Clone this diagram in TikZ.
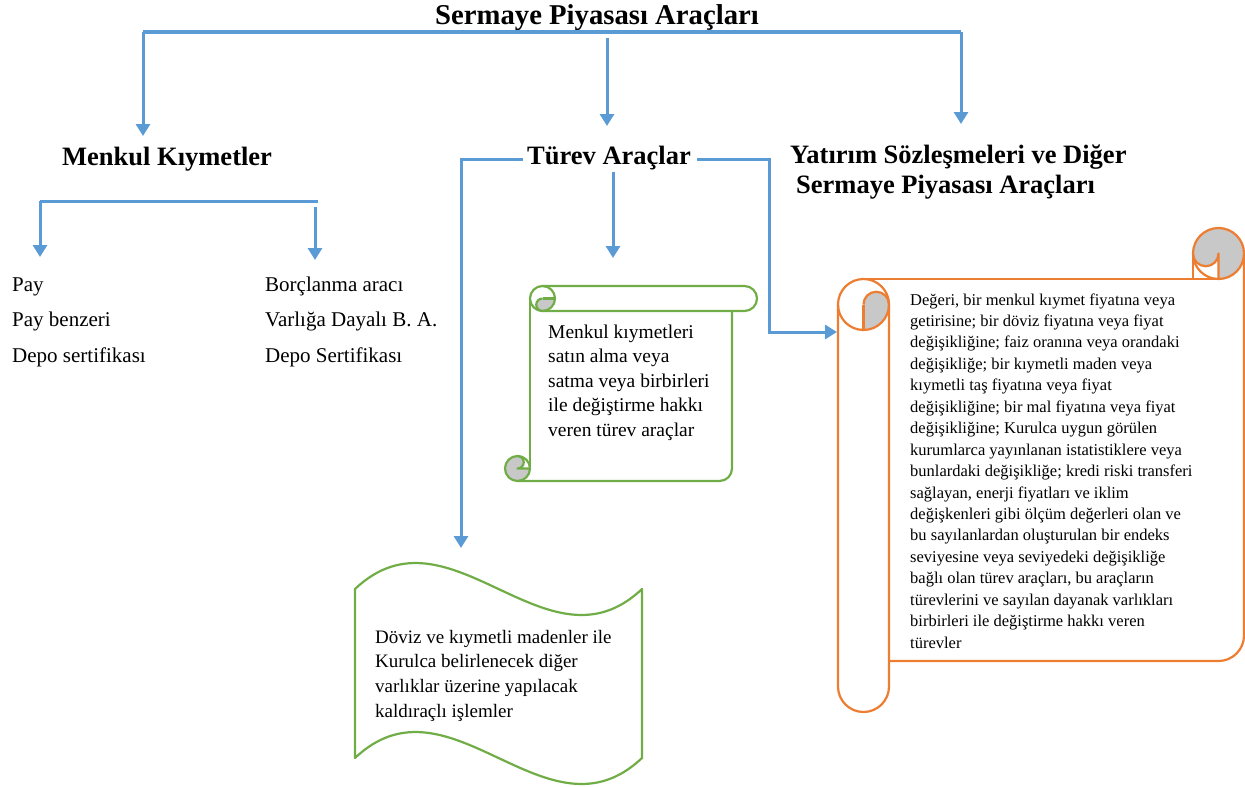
\documentclass[tikz,border=0pt]{standalone}
\usepackage{fontspec}
\setmainfont{Liberation Serif}
\usetikzlibrary{arrows.meta}
\definecolor{linkblue}{RGB}{91,155,213}
\definecolor{scrollgreen}{RGB}{112,173,71}
\definecolor{scrollorange}{RGB}{237,125,49}
\definecolor{curlgray}{RGB}{200,200,200}
% stacked lines; the node's baseline is the first line's baseline
\newcommand\txtlines[1]{\vtop{\halign{##\hfil\cr#1\crcr}}}
\begin{document}
\begin{tikzpicture}[x=1pt,y=-1pt,
  link/.style={draw=linkblue,line width=3pt},
  arr/.style={link,-{Triangle[width=14pt,length=12pt]}},
  head/.style={inner sep=0pt,font=\fontsize{26.5}{30}\selectfont\bfseries},
  listtxt/.style={inner sep=0pt,anchor=base west,font=\fontsize{21}{35.5}\selectfont},
  greenline/.style={draw=scrollgreen,line width=2.2pt,line join=round},
  orangeline/.style={draw=scrollorange,line width=2.2pt,line join=round},
  curl/.style={fill=curlgray}]
\useasboundingbox (0,0) rectangle (1245,787);

% ---- headings ----
\node[head,font=\fontsize{28.7}{30}\selectfont\bfseries,anchor=base] (title) at (597,24) {Sermaye Piyasası Araçları};
\node[head,anchor=base west] (mk) at (62,165) {Menkul Kıymetler};
\node[head,anchor=base west] (tv) at (527,164) {Türev Araçlar};
\node[head,anchor=base west] (ys) at (790,163)
  {\txtlines{Yatırım Sözleşmeleri ve Diğer\cr\hspace{6pt}Sermaye Piyasası Araçları}};

% ---- lists under Menkul Kıymetler ----
\node[listtxt] (listL) at (12,291) {\txtlines{Pay\cr Pay benzeri\cr Depo sertifikası}};
\node[listtxt] (listR) at (265,291) {\txtlines{Borçlanma aracı\cr Varlığa Dayalı B. A.\cr Depo Sertifikası}};

% ---- connectors from the title ----
\coordinate (busL) at (143,32);
\coordinate (busR) at (961,32);
\coordinate (busM) at (607,38);
\coordinate (tipMK) at (143,136);
\coordinate (tipTV) at (607,126);
\coordinate (tipYS) at (961,124);
\draw[link,line width=3.5pt] (busL) -- (busR);
\draw[arr] (busL) -- (tipMK);
\draw[arr] (busM) -- (tipTV);
\draw[arr] (busR) -- (tipYS);

% ---- connectors under Menkul Kıymetler ----
\coordinate (mkL) at (40,201);
\coordinate (mkR) at (318,201);
\coordinate (mkR2) at (315,207);
\coordinate (tipPay) at (40,257);
\coordinate (tipBorc) at (315,260);
\draw[link] (mkL) -- (mkR);
\draw[arr] (mkL) -- (tipPay);
\draw[arr] (mkR2) -- (tipBorc);

% ---- connectors from Türev Araçlar ----
\coordinate (tvL) at (523,159);
\coordinate (tipWave) at (461,548);
\coordinate (tvR) at (697,159);
\coordinate (tvRc) at (769,159);
\coordinate (tipOrange) at (837,332);
\coordinate (tvM) at (613,172);
\coordinate (tipGreen) at (613,258);
\draw[arr] (tvL) -| (tipWave);
\draw[arr] (tvR) -- (tvRc) |- (tipOrange);
\draw[arr] (tvM) -- (tipGreen);

% ---- horizontal scroll (green) ----
\path[curl] (542.5,298.5) -- (555,298.5) arc[start angle=0,end angle=90,radius=12.5]
  arc[start angle=90,end angle=270,radius=6.25] -- cycle;
\path[curl] (517.5,456) arc[start angle=270,end angle=0,radius=12.5] -- (517.5,468.5)
  arc[start angle=90,end angle=-90,radius=6.25] -- cycle;
\draw[greenline] (542.5,298.5) circle[radius=12.5];
\draw[greenline] (542.5,286) -- (744.5,286) arc[start angle=-90,end angle=90,radius=12.5] -- (542.5,311);
\draw[greenline] (542.5,298.5) -- (555,298.5);
\draw[greenline] (542.5,311) arc[start angle=90,end angle=270,radius=6.25];
\draw[greenline] (530,298.5) -- (530,468.5);
\draw[greenline] (732,311) -- (732,468.5) arc[start angle=0,end angle=90,radius=12.5] -- (517.5,481);
\draw[greenline] (517.5,468.5) circle[radius=12.5];
\draw[greenline] (530,468.5) -- (517.5,468.5) arc[start angle=90,end angle=-90,radius=6.25];
\node[inner sep=0pt,anchor=base west,font=\fontsize{19.5}{24.5}\selectfont] (greentxt) at (548,338)
  {\txtlines{Menkul kıymetleri\cr satın alma veya\cr satma veya birbirleri\cr ile değiştirme hakkı\cr veren türev araçlar}};

% ---- vertical scroll (orange) ----
\path[curl] (863.5,304.5) -- (863.5,330) arc[start angle=90,end angle=0,radius=25.5]
  arc[start angle=0,end angle=-180,radius=12.75] -- cycle;
\path[curl] (1193,253.5) arc[start angle=180,end angle=450,radius=25.5] -- (1218.5,253.5)
  arc[start angle=0,end angle=180,radius=12.75] -- cycle;
\draw[orangeline] (863.5,304.5) circle[radius=25.5];
\draw[orangeline] (838,304.5) -- (838,686.5) arc[start angle=180,end angle=0,radius=25.5] -- (889,304.5);
\draw[orangeline] (863.5,304.5) -- (863.5,330);
\draw[orangeline] (889,304.5) arc[start angle=0,end angle=-180,radius=12.75];
\draw[orangeline] (863.5,279) -- (1218.5,279);
\draw[orangeline] (1193,253.5) -- (1193,279);
\draw[orangeline] (1244,253.5) -- (1244,635.5) arc[start angle=0,end angle=90,radius=25.5] -- (889,661);
\draw[orangeline] (1218.5,253.5) circle[radius=25.5];
\draw[orangeline] (1218.5,279) -- (1218.5,253.5) arc[start angle=0,end angle=180,radius=12.75];
\node[inner sep=0pt,anchor=base west,font=\fontsize{16.5}{21.45}\selectfont] (orangetxt) at (910,305)
  {\txtlines{Değeri, bir menkul kıymet fiyatına veya\cr
  getirisine; bir döviz fiyatına veya fiyat\cr
  değişikliğine; faiz oranına veya orandaki\cr
  değişikliğe; bir kıymetli maden veya\cr
  kıymetli taş fiyatına veya fiyat\cr
  değişikliğine; bir mal fiyatına veya fiyat\cr
  değişikliğine; Kurulca uygun görülen\cr
  kurumlarca yayınlanan istatistiklere veya\cr
  bunlardaki değişikliğe; kredi riski transferi\cr
  sağlayan, enerji fiyatları ve iklim\cr
  değişkenleri gibi ölçüm değerleri olan ve\cr
  bu sayılanlardan oluşturulan bir endeks\cr
  seviyesine veya seviyedeki değişikliğe\cr
  bağlı olan türev araçları, bu araçların\cr
  türevlerini ve sayılan dayanak varlıkları\cr
  birbirleri ile değiştirme hakkı veren\cr
  türevler}};

% ---- wave (green) ----
\draw[greenline] (355,589) .. controls (450,499) and (547,679) .. (642,589) -- (642,758)
  .. controls (547,848) and (450,668) .. (355,758) -- cycle;
\node[inner sep=0pt,anchor=base west,font=\fontsize{19}{24.7}\selectfont] (wavetxt) at (375,643)
  {\txtlines{Döviz ve kıymetli madenler ile\cr Kurulca belirlenecek diğer\cr varlıklar üzerine yapılacak\cr kaldıraçlı işlemler}};
\end{tikzpicture}
\end{document}
